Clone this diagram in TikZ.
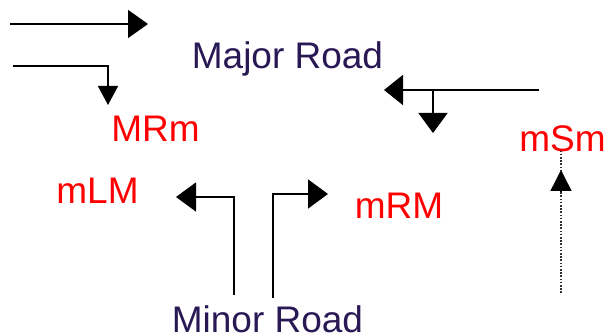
\documentclass[tikz,border=0pt]{standalone}
\usepackage{fontspec}
\setmainfont{Liberation Sans}
\usetikzlibrary{arrows.meta}
\definecolor{roadblue}{RGB}{40,25,85}
\definecolor{movred}{RGB}{255,0,0}
\tikzset{
  road/.style={font=\fontsize{37}{40}\selectfont, text=roadblue, anchor=base, inner sep=0pt},
  mov/.style={font=\fontsize{37}{40}\selectfont, text=movred, anchor=base, inner sep=0pt},
  flow/.style={line width=1.6pt, black},
  bigtip/.style={-{Triangle[length=20pt,width=29pt]}},
  smalltip/.style={-{Triangle[length=19pt,width=20pt]}},
  dottip/.style={-{Triangle[length=21pt,width=21pt]}},
}
\begin{document}
\begin{tikzpicture}[x=1pt,y=-1pt]
\useasboundingbox (0,0) rectangle (607,336);
% labels
\node[road] (major) at (287.5,69) {Major Road};
\node[road] (minor) at (267.5,332) {Minor Road};
\node[mov] (MRm) at (155.5,142) {MRm};
\node[mov] (mLM) at (97.5,204) {mLM};
\node[mov] (mRM) at (399,219) {mRM};
\node[mov] (mSm) at (562.5,152) {mSm};
% coordinates
\coordinate (a1s) at (10,24);
\coordinate (a1e) at (148,24);
\coordinate (a2s) at (13,66);
\coordinate (a2c) at (108,66);
\coordinate (a2e) at (108,105);
\coordinate (a3s) at (539,90);
\coordinate (a3e) at (384,90);
\coordinate (a4s) at (433,90);
\coordinate (a4e) at (433,133);
\coordinate (b1s) at (234,295);
\coordinate (b1c) at (234,197);
\coordinate (b1e) at (176,197);
\coordinate (b2s) at (273,298);
\coordinate (b2c) at (273,194);
\coordinate (b2e) at (328,194);
\coordinate (c1s) at (561,293);
\coordinate (c1e) at (561,170);
% arrows
\draw[flow,-{Triangle[length=20pt,width=28pt]}] (a1s) -- (a1e);
\draw[flow,smalltip] (a2s) -- (a2c) -- (a2e);
\draw[flow,-{Triangle[length=19pt,width=30pt]}] (a3s) -- (a3e);
\draw[flow,bigtip] (a4s) -- (a4e);
\draw[flow,bigtip] (b1s) -- (b1c) -- (b1e);
\draw[flow,bigtip] (b2s) -- (b2c) -- (b2e);
\draw[line width=1.4pt, black!80, dash pattern=on 1.6pt off 1.6pt] (c1s) -- ([yshift=21pt]c1e);
\draw[line width=1.4pt, dottip, shorten <=102pt] (c1s) -- (c1e);
\end{tikzpicture}
\end{document}
